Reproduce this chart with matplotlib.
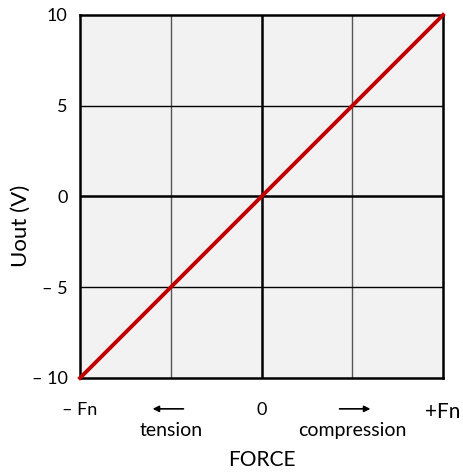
import matplotlib
matplotlib.use("Agg")
import matplotlib.pyplot as plt

# data
force = [-1.0, 1.0]          # in units of Fn
uout = [-10.0, 10.0]         # V
x_ticks = [-1.0, 0.0, 1.0]
x_ticklabels = ["\u2013 Fn", "0", "+Fn"]
y_ticks = [-10, -5, 0, 5, 10]
y_ticklabels = ["\u2013 10", "\u2013 5", "0", "5", "10"]
grid_x = [-0.5, 0.5]
grid_y = [-5, 5]

plt.rcParams["font.family"] = ["Lato", "DejaVu Sans"]

fig = plt.figure(figsize=(4.63, 4.73), dpi=100)
ax = fig.add_axes([80 / 463, 1 - 378 / 473, 363 / 463, 363 / 473])
ax.set_facecolor("#f2f2f2")
ax.set_xlim(-1, 1)
ax.set_ylim(-10, 10)

for gx in grid_x:
    ax.axvline(gx, color="#555555", lw=1.0, zorder=1)
for gy in grid_y:
    ax.axhline(gy, color="black", lw=1.0, zorder=1)
ax.axvline(0, color="black", lw=1.8, zorder=1)
ax.axhline(0, color="black", lw=1.8, zorder=1)

ax.plot(force, uout, color="#c00000", lw=2.8, zorder=3, clip_on=False)

for s in ax.spines.values():
    s.set_linewidth(1.8)
    s.set_color("black")

ax.set_xticks(x_ticks)
ax.set_xticklabels(x_ticklabels, fontsize=13)
ax.get_xticklabels()[2].set_fontsize(15)
ax.set_yticks(y_ticks)
ax.set_yticklabels(y_ticklabels, fontsize=13)
ax.tick_params(length=0)
ax.tick_params(axis="x", pad=17)
ax.tick_params(axis="y", pad=9)
ax.set_ylabel("Uout (V)", fontsize=16)
ax.yaxis.set_label_coords(-0.135, 0.42)

# direction annotations below the axis
ax.annotate("", xy=(-0.6, -11.7), xytext=(-0.43, -11.7), xycoords="data",
            annotation_clip=False,
            arrowprops=dict(arrowstyle="-|>", color="black", lw=1.2,
                            mutation_scale=9, shrinkA=0, shrinkB=0))
ax.annotate("", xy=(0.6, -11.7), xytext=(0.43, -11.7), xycoords="data",
            annotation_clip=False,
            arrowprops=dict(arrowstyle="-|>", color="black", lw=1.2,
                            mutation_scale=9, shrinkA=0, shrinkB=0))
ax.text(-0.5, -12.9, "tension", ha="center", va="center", fontsize=14, clip_on=False)
ax.text(0.5, -12.9, "compression", ha="center", va="center", fontsize=14, clip_on=False)
ax.text(0, -14.5, "FORCE", ha="center", va="center", fontsize=15, clip_on=False)

fig.savefig("out.png", dpi=100, facecolor="white")
